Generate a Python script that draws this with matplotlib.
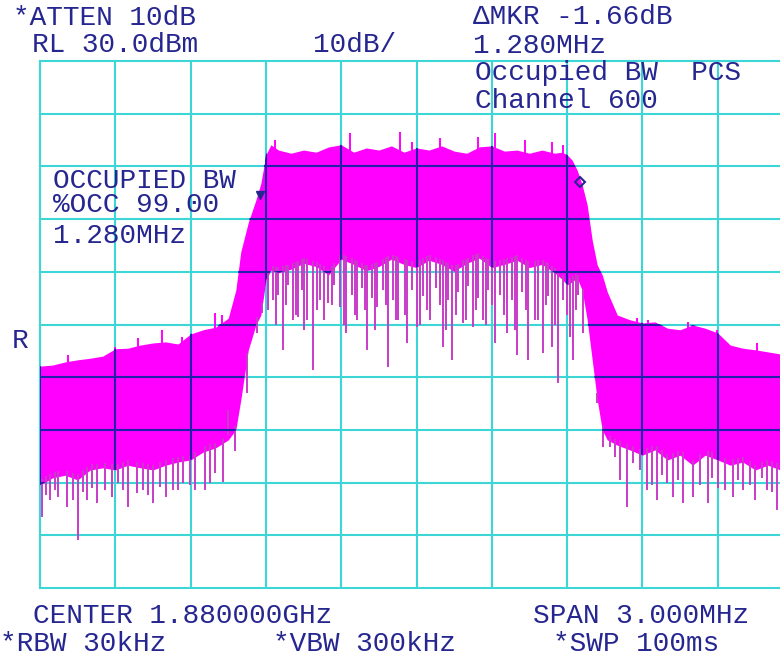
import numpy as np
import matplotlib.pyplot as plt

# sweep: offset from 1.880000 GHz centre in MHz, level in dBm (RL 30 dBm, 10 dB/div)
freq = [-1.50, -1.45, -1.40, -1.35, -1.30, -1.25, -1.20, -1.15, -1.10, -1.05,
        -1.00, -0.95, -0.90, -0.85, -0.80, -0.75, -0.72, -0.70, -0.67, -0.64,
        -0.62, -0.60, -0.58, -0.55, -0.50, -0.45, -0.40, -0.35, -0.30, -0.25,
        -0.20, -0.15, -0.10, -0.05, 0.00, 0.05, 0.10, 0.15, 0.20, 0.25,
        0.30, 0.35, 0.40, 0.45, 0.50, 0.55, 0.58, 0.60, 0.62, 0.64,
        0.66, 0.68, 0.70, 0.72, 0.74, 0.76, 0.80, 0.85, 0.90, 0.95,
        1.00, 1.05, 1.10, 1.15, 1.20, 1.25, 1.30, 1.35, 1.40, 1.45, 1.50]
top = [-27.9, -27.7, -27.1, -26.7, -26.4, -26.0, -24.6, -24.5, -23.9, -23.5,
       -23.3, -23.7, -21.8, -21.0, -20.5, -18.8, -13.5, -6.2, -0.6, 3.6,
       6.8, 12.2, 14.1, 13.1, 12.5, 13.1, 12.7, 13.7, 14.1, 12.7,
       13.5, 13.1, 13.9, 12.7, 13.5, 13.1, 13.9, 12.9, 12.5, 13.7,
       13.9, 12.9, 13.1, 12.5, 13.1, 12.5, 12.7, 12.2, 11.2, 9.3,
       6.5, 2.7, -4.0, -8.7, -10.6, -13.8, -18.2, -19.1, -19.7, -19.5,
       -20.7, -21.0, -20.1, -20.7, -21.6, -23.9, -24.5, -24.8, -25.2, -25.6, -26.0]
floor = [-50.5, -49.1, -48.6, -49.5, -47.6, -47.2, -47.6, -46.7, -47.2, -47.6,
         -46.7, -46.1, -45.7, -44.2, -43.4, -41.9, -40.0, -34.3, -24.8, -20.1,
         -18.2, -11.6, -9.7, -10.2, -9.5, -8.4, -9.0, -10.6, -7.6, -8.6,
         -9.8, -9.0, -7.6, -8.6, -9.2, -7.8, -8.6, -9.9, -8.4, -7.4,
         -9.2, -8.6, -7.8, -9.2, -8.6, -10.2, -11.4, -12.5, -11.9, -11.2,
         -13.5, -19.1, -26.7, -34.3, -40.0, -41.9, -42.9, -43.8, -44.8, -43.8,
         -45.7, -44.8, -46.7, -44.8, -45.7, -46.7, -46.1, -47.6, -46.7, -47.6, -47.6]

# downward noise spikes
dip_freq = [-1.492, -1.460, -1.428, -1.392, -1.349, -1.313, -1.273, -1.241, -1.189, -1.149,
            -1.114, -1.090, -1.050, -1.022, -0.970, -0.930, -0.882, -0.843, -0.803, -0.771,
            -1.476, -1.440, -1.369, -1.329, -1.293, -1.213, -1.169, -1.070, -0.998, -0.950,
            -0.902, -0.823,
            -0.751, -0.723, -0.675, -0.635, -0.616,
            -0.572, -0.532, -0.492, -0.472, -0.436, -0.412, -0.353, -0.305, -0.281, -0.237,
            -0.197, -0.157, -0.114, -0.074, -0.038, 0.002, 0.054, 0.106, 0.141, 0.185,
            0.225, 0.265, 0.313, 0.361, 0.400, 0.444, 0.472, 0.504, 0.540, 0.564,
            0.612, 0.624, 0.663,
            -0.552, -0.512, -0.456, -0.384, -0.329, -0.257, -0.217, -0.177, -0.133, -0.094,
            -0.018, 0.026, 0.078, 0.126, 0.165, 0.205, 0.245, 0.285, 0.333, 0.380,
            0.420, 0.524, 0.584, 0.643,
            -0.592, -0.560, -0.520, -0.480, -0.448, -0.396, -0.369, -0.337, -0.289, -0.245,
            -0.205, -0.165, -0.122, -0.082, -0.046, 0.014, 0.042, 0.094, 0.118, 0.157,
            0.197, 0.237, 0.277, 0.301, 0.349, 0.392, 0.436, 0.484, 0.516, 0.552,
            0.600, 0.635,
            0.719, 0.743, 0.771, 0.791, 0.839, 0.863, 0.918, 0.958, 0.998, 1.022,
            1.062, 1.102, 1.161, 1.201, 1.261, 1.301, 1.349, 1.396, 1.436,
            0.811, 0.890, 0.938, 0.978, 1.042, 1.129, 1.177, 1.229, 1.281, 1.329,
            1.376, 1.416]
dip_level = [-56.5, -53.3, -52.7, -54.6, -60.9, -53.3, -53.9, -51.4, -50.1, -54.6,
             -52.0, -51.4, -53.9, -50.8, -51.4, -50.1, -51.4, -51.4, -48.2, -49.9,
             -52.4, -51.4, -53.3, -51.8, -51.0, -52.7, -51.4, -52.4, -52.7, -51.4,
             -50.5, -50.1,
             -36.2, -44.0, -33.0, -21.6, -17.8,
             -15.4, -24.8, -19.1, -18.6, -19.1, -28.6, -15.9, -16.7, -21.6, -19.1,
             -24.8, -16.7, -28.1, -19.1, -23.5, -20.5, -19.1, -24.3, -26.7, -19.7,
             -20.5, -19.1, -23.5, -21.6, -25.8, -26.7, -19.1, -25.4, -24.3, -31.1,
             -22.4, -26.7, -21.6,
             -14.4, -12.5, -13.5, -15.4, -12.5, -14.4, -13.1, -15.0, -13.5, -15.4,
             -13.5, -14.6, -13.1, -15.4, -13.8, -12.7, -15.0, -13.5, -14.4, -15.4,
             -13.8, -14.6, -15.4, -14.4,
             -17.2, -20.1, -16.3, -18.2, -21.0, -17.2, -19.1, -16.3, -20.1, -18.2,
             -17.2, -21.0, -16.3, -19.1, -18.2, -20.1, -17.2, -16.3, -21.0, -18.2,
             -19.1, -17.2, -20.1, -16.3, -18.2, -21.0, -17.2, -19.1, -16.3, -20.1,
             -18.2, -17.2,
             -34.9, -43.2, -43.2, -45.1, -54.6, -46.3, -51.4, -53.3, -50.1, -52.7,
             -53.9, -52.7, -53.9, -51.0, -52.7, -51.4, -53.3, -51.4, -55.2,
             -49.5, -47.6, -50.5, -48.6, -49.5, -50.5, -49.1, -51.4, -49.5, -50.5,
             -49.1, -51.8]

# upward spikes on the top of the trace
peak_freq = [-1.388, -1.201, -1.110, -1.014, -0.934, -0.803, -0.775,
             -0.564, -0.265, -0.066, -0.018, 0.094, 0.245, 0.313, 0.432, 0.540, 0.584,
             0.878, 0.922, 0.962, 1.082, 1.197, 1.357]
peak_level = [-25.8, -24.3, -22.6, -21.0, -22.4, -17.8, -18.2,
              15.0, 16.3, 16.5, 14.6, 15.4, 15.6, 16.3, 15.0, 14.6, 14.1,
              -18.8, -19.1, -20.5, -19.5, -21.0, -23.5]

# occupied bandwidth markers
mkr_freq = [-0.624, 0.651]
mkr_level = [4.6, 7.0]

W, H = 780, 657
cyan = '#3dd6d6'
navy = '#262690'
magenta = '#ff00ff'
mono = ['Liberation Mono', 'DejaVu Sans Mono']

fig = plt.figure(figsize=(7.8, 6.57), dpi=100)
ax = fig.add_axes([40 / W, (H - 588) / H, (793 - 40) / W, (588 - 61) / H])
ax.set_xlim(-1.5, 1.5)
ax.set_ylim(-70, 30)
ax.set_xticks([])
ax.set_yticks([])
for s in ax.spines.values():
    s.set_color(cyan)
    s.set_linewidth(1.5)

vgrid = [-1.5 + 0.3 * k for k in range(1, 10)]
hgrid = [-70 + 10 * k for k in range(1, 10)]
for v in vgrid:
    ax.axvline(v, color=cyan, lw=1.5, zorder=1)
for h in hgrid:
    ax.axhline(h, color=cyan, lw=1.5, zorder=1)

body = ax.fill_between(freq, floor, top, color=magenta, lw=0, zorder=2)
base = np.interp(dip_freq, freq, floor) + 1
ax.vlines(dip_freq, dip_level, base, colors='#c83cc8', lw=1.4, zorder=2)
tip = np.interp(peak_freq, freq, top) - 1
ax.vlines(peak_freq, tip, peak_level, colors=magenta, lw=1.4, zorder=2)

# grid shows dark blue where it crosses the trace
clip = body.get_paths()[0]
for v in [-1.5] + vgrid:
    ln = ax.axvline(v, color='#2020a8', lw=1.5, zorder=3)
    ln.set_clip_path(clip, ax.transData)
for h in hgrid:
    ln = ax.axhline(h, color='#2020a8', lw=1.5, zorder=3)
    ln.set_clip_path(clip, ax.transData)

ax.plot(mkr_freq[0], mkr_level[0], 'v', ms=6, color=navy, zorder=4)
ax.plot(mkr_freq[1], mkr_level[1], 'D', ms=5, mfc='none', mec=navy, mew=1.5, zorder=4)

labels = [
    ('*ATTEN 10dB', 13, 25, 1.2), ('RL 30.0dBm', 32, 52, 1.2), ('10dB/', 313, 52, 1.2),
    ('\u0394MKR -1.66dB\n1.280MHz', 473, 53, 1.16),
    ('Occupied BW  PCS\nChannel 600', 475, 108, 1.08),
    ('OCCUPIED BW\n%OCC 99.00', 53, 212, 0.91), ('1.280MHz', 53, 243, 1.2),
    ('R', 12, 348, 1.2),
    ('CENTER 1.880000GHz', 33, 623, 1.2), ('SPAN 3.000MHz', 533, 623, 1.2),
    ('*RBW 30kHz', 0, 651, 1.2), ('*VBW 300kHz', 273, 651, 1.2),
    ('*SWP 100ms', 553, 651, 1.2),
]
for txt, x, y, sp in labels:
    fig.text(x / W, 1 - y / H, txt, color=navy, fontsize=20, family=mono,
             ha='left', va='baseline', linespacing=sp, zorder=5)

fig.savefig('out.png', dpi=100)
